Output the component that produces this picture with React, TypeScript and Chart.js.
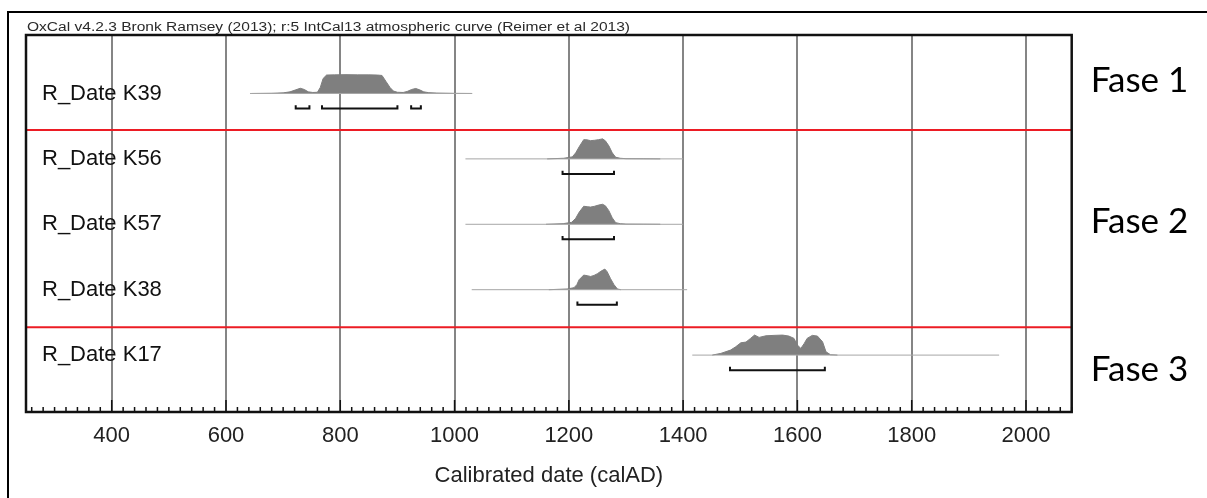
import React, { useEffect, useRef } from 'react';
import { Chart, registerables } from 'chart.js';

Chart.register(...registerables);

// ---------- data ----------
const HEADER = 'OxCal v4.2.3 Bronk Ramsey (2013); r:5 IntCal13 atmospheric curve (Reimer et al 2013)';
const X_TITLE = 'Calibrated date (calAD)';
const X_MIN = 250;
const X_MAX = 2080;
const X_TICKS = [400, 600, 800, 1000, 1200, 1400, 1600, 1800, 2000];

const SAMPLES = ['R_Date K39', 'R_Date K56', 'R_Date K57', 'R_Date K38', 'R_Date K17'];
const ROWS = [4, 3, 2, 1, 0];
// extent of the thin baseline of each likelihood (calAD)
const SPANS = [
  [642, 1031],
  [1019, 1400],
  [1019, 1400],
  [1030, 1407],
  [1416, 1953],
];

const K39_YEARS = [645, 680, 700, 712, 722, 730, 737, 744, 752, 760, 765, 770, 776, 790, 810, 830, 850, 865, 873, 880, 887, 893, 900, 910, 917, 925, 932, 939, 946, 955, 969, 1000, 1030];
const K39_PROB = [0, 0.01, 0.03, 0.08, 0.18, 0.26, 0.2, 0.08, 0.05, 0.06, 0.3, 0.75, 0.92, 0.93, 0.94, 0.93, 0.93, 0.92, 0.9, 0.6, 0.3, 0.12, 0.06, 0.05, 0.1, 0.2, 0.25, 0.18, 0.08, 0.04, 0.02, 0.005, 0];

const K56_YEARS = [1162, 1191, 1206, 1212, 1218, 1226, 1232, 1238, 1245, 1252, 1259, 1264, 1270, 1276, 1282, 1290, 1300, 1330, 1360];
const K56_PROB = [0, 0.03, 0.1, 0.3, 0.6, 0.96, 0.95, 0.91, 0.93, 0.96, 1, 0.9, 0.65, 0.3, 0.08, 0.03, 0.01, 0.005, 0];

const K57_YEARS = [1160, 1190, 1205, 1212, 1218, 1226, 1232, 1238, 1245, 1252, 1259, 1264, 1270, 1276, 1282, 1290, 1300, 1330, 1360];
const K57_PROB = [0, 0.03, 0.1, 0.3, 0.6, 0.9, 0.88, 0.86, 0.9, 0.96, 1, 0.92, 0.68, 0.32, 0.08, 0.03, 0.01, 0.005, 0];

const K38_YEARS = [1165, 1197, 1209, 1214, 1218, 1226, 1232, 1238, 1244, 1250, 1256, 1263, 1267, 1273, 1279, 1285, 1291];
const K38_PROB = [0, 0.035, 0.1, 0.25, 0.5, 0.73, 0.7, 0.66, 0.71, 0.8, 0.92, 1.03, 0.9, 0.55, 0.25, 0.035, 0];

const K17_YEARS = [1451, 1466, 1483, 1492, 1501, 1510, 1518, 1525, 1533, 1545, 1559, 1574, 1585, 1594, 1600, 1606, 1612, 1617, 1626, 1635, 1644, 1650, 1658, 1670];
const K17_PROB = [0, 0.085, 0.25, 0.415, 0.615, 0.65, 0.835, 1, 0.885, 0.965, 0.985, 1, 0.95, 0.835, 0.5, 0.335, 0.585, 0.835, 0.985, 0.95, 0.665, 0.165, 0.015, 0];

const CURVE_YEARS = [K39_YEARS, K56_YEARS, K57_YEARS, K38_YEARS, K17_YEARS];
const CURVE_PROBS = [K39_PROB, K56_PROB, K57_PROB, K38_PROB, K17_PROB];

// 95.4% ranges (calAD)
const RANGES = [
  [[722, 746], [768, 900], [924, 941]],
  [[1189, 1279]],
  [[1189, 1279]],
  [[1215, 1284]],
  [[1482, 1648]],
];

const PHASES = ['Fase 1', 'Fase 2', 'Fase 3'];
const PHASE_POS = [4.19, 2.04, -0.23];
const PHASE_BOUNDARIES = [3.443, 0.425];

// ---------- styling constants ----------
const Y_MIN = -0.87;
const Y_MAX = 4.894;
const PEAK_H = 0.306;
const BRACKET_DROP = 0.23;
const BRACKET_TICK = 0.05;
const SANS = '"Liberation Sans", Arial, sans-serif';
const HEADER_WIDTH = 603;

export default function App() {
  const ref = useRef<HTMLCanvasElement | null>(null);

  useEffect(() => {
    if (!ref.current) return;
    const datasets: any[] = [];

    // baselines
    SPANS.forEach((s, i) => {
      datasets.push({
        data: [{ x: s[0], y: ROWS[i] }, { x: s[1], y: ROWS[i] }],
        borderColor: '#a6a6a6',
        borderWidth: 1,
        pointRadius: 0,
        fill: false,
      });
    });
    // likelihood shapes
    CURVE_YEARS.forEach((yrs, i) => {
      datasets.push({
        data: yrs.map((x, k) => ({ x, y: ROWS[i] + CURVE_PROBS[i][k] * PEAK_H })),
        borderColor: '#7f7f7f',
        backgroundColor: '#7f7f7f',
        borderWidth: 1,
        pointRadius: 0,
        tension: 0,
        fill: { value: ROWS[i] },
      });
    });
    // range brackets
    RANGES.forEach((rs, i) => {
      const yb = ROWS[i] - BRACKET_DROP;
      rs.forEach((r) => {
        datasets.push({
          data: [
            { x: r[0], y: yb + BRACKET_TICK },
            { x: r[0], y: yb },
            { x: r[1], y: yb },
            { x: r[1], y: yb + BRACKET_TICK },
          ],
          borderColor: '#111',
          borderWidth: 2,
          pointRadius: 0,
          fill: false,
        });
      });
    });
    // phase boundaries
    PHASE_BOUNDARIES.forEach((b) => {
      datasets.push({
        data: [{ x: X_MIN, y: b }, { x: X_MAX, y: b }],
        borderColor: '#ec1c24',
        borderWidth: 2,
        pointRadius: 0,
        fill: false,
      });
    });

    const decor = {
      id: 'decor',
      beforeDraw(chart: any) {
        const ctx = chart.ctx;
        const ca = chart.chartArea;
        ctx.save();
        ctx.fillStyle = '#fff';
        ctx.fillRect(0, 0, chart.width, chart.height);
        ctx.strokeStyle = '#000';
        ctx.lineWidth = 2;
        ctx.beginPath();
        ctx.moveTo(8, chart.height);
        ctx.lineTo(8, 12);
        ctx.lineTo(chart.width, 12);
        ctx.stroke();
        ctx.font = '12px ' + SANS;
        ctx.fillStyle = '#2a2a2a';
        ctx.textBaseline = 'alphabetic';
        ctx.textAlign = 'left';
        const w = ctx.measureText(HEADER).width;
        ctx.translate(ca.left + 1, ca.top - 4);
        ctx.scale(HEADER_WIDTH / w, 1);
        ctx.fillText(HEADER, 0, 0);
        ctx.restore();
      },
      afterDatasetsDraw(chart: any) {
        const ctx = chart.ctx;
        const ca = chart.chartArea;
        const xs = chart.scales.x;
        const ys = chart.scales.y;
        ctx.save();
        // sample labels
        ctx.font = '22px ' + SANS;
        ctx.fillStyle = '#111';
        ctx.textBaseline = 'middle';
        ctx.textAlign = 'left';
        SAMPLES.forEach((s, i) => {
          ctx.fillText(s, ca.left + 16, ys.getPixelForValue(ROWS[i]));
        });
        // frame
        ctx.strokeStyle = '#111';
        ctx.lineWidth = 2.5;
        ctx.strokeRect(ca.left, ca.top, ca.right - ca.left, ca.bottom - ca.top);
        // inward ticks
        ctx.lineWidth = 1.5;
        ctx.beginPath();
        for (let v = Math.ceil(X_MIN / 20) * 20; v <= X_MAX; v += 20) {
          const px = xs.getPixelForValue(v);
          const len = v % 200 === 0 ? 12 : 5;
          ctx.moveTo(px, ca.bottom);
          ctx.lineTo(px, ca.bottom - len);
        }
        ctx.stroke();
        // phase labels
        ctx.font = '35px Lato, "Open Sans", sans-serif';
        ctx.fillStyle = '#000';
        ctx.textBaseline = 'middle';
        PHASES.forEach((p, i) => {
          ctx.fillText(p, ca.right + 19, ys.getPixelForValue(PHASE_POS[i]));
        });
        ctx.restore();
      },
    };

    const chart = new Chart(ref.current, {
      type: 'line',
      data: { datasets },
      options: {
        animation: false,
        responsive: false,
        maintainAspectRatio: false,
        events: [],
        layout: { padding: { left: 26, right: 135.3, top: 35, bottom: 0 } },
        plugins: {
          legend: { display: false },
          title: { display: false },
          tooltip: { enabled: false },
        },
        scales: {
          x: {
            type: 'linear',
            min: X_MIN,
            max: X_MAX,
            afterBuildTicks: (s: any) => {
              s.ticks = X_TICKS.map((v) => ({ value: v }));
            },
            afterFit: (s: any) => {
              s.height = 86;
            },
            ticks: {
              callback: (v: any) => String(v),
              font: { family: SANS, size: 22 },
              color: '#222',
              padding: 11,
              maxRotation: 0,
              autoSkip: false,
            },
            grid: { color: '#858585', lineWidth: 2, drawTicks: false },
            border: { display: false },
            title: {
              display: true,
              text: X_TITLE,
              font: { family: SANS, size: 22 },
              color: '#222',
              padding: { top: 0, bottom: 9 },
            },
          },
          y: {
            type: 'linear',
            min: Y_MIN,
            max: Y_MAX,
            display: false,
          },
        },
      },
      plugins: [decor],
    } as any);

    return () => chart.destroy();
  }, []);

  return (
    <div style={{ position: 'fixed', left: 0, top: 0, width: 1207, height: 498, background: '#fff' }}>
      <canvas ref={ref} width={1207} height={498} style={{ display: 'block', width: 1207, height: 498 }} />
    </div>
  );
}
